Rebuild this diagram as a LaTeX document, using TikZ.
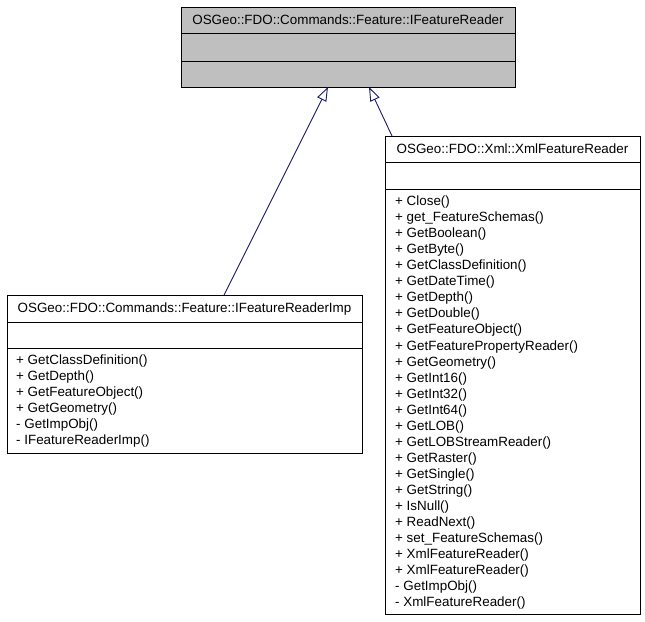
\documentclass[tikz,border=0pt]{standalone}
\usepackage{fontspec}
\setmainfont{Liberation Sans}
\usetikzlibrary{arrows.meta}
\definecolor{boxgray}{HTML}{BFBFBF}
\definecolor{edgeblue}{HTML}{191970}
\tikzset{
  umlbox/.style={draw=black, line width=1pt, rectangle, inner sep=0pt, anchor=north west},
  divline/.style={draw=black, line width=1pt},
  ttl/.style={inner sep=0pt, anchor=mid, font=\fontsize{13.4pt}{16pt}\selectfont},
  item/.style={inner sep=0pt, anchor=mid west, font=\fontsize{13.4pt}{16pt}\selectfont},
  inherit/.style={draw=edgeblue, line width=0.9pt, -{Triangle[open, length=14pt, width=10pt]}}
}
\begin{document}
\begin{tikzpicture}[x=1pt, y=-1pt]
\useasboundingbox (0,0) rectangle (645,621);
% top class
\node[umlbox, fill=boxgray, minimum width=334pt, minimum height=80pt] (top) at (181,7) {};
\draw[divline] (181,33) -- (515,33);
\draw[divline] (181,61) -- (515,61);
\node[ttl] (toptitle) at (348,21.5) {OSGeo::FDO::Commands::Feature::IFeatureReader};
% imp class
\node[umlbox, fill=white, minimum width=355pt, minimum height=158pt] (imp) at (7,295) {};
\draw[divline] (7,322) -- (362,322);
\draw[divline] (7,348) -- (362,348);
\node[ttl] (imptitle) at (184.5,310) {OSGeo::FDO::Commands::Feature::IFeatureReaderImp};
\foreach \t [count=\i from 0] in {+ GetClassDefinition(), + GetDepth(), + GetFeatureObject(), + GetGeometry(), - GetImpObj(), - IFeatureReaderImp()}
  \node[item] (impitem\i) at (16,362+16*\i) {\t};
% xml class
\node[umlbox, fill=white, minimum width=255pt, minimum height=478pt] (xml) at (385,136) {};
\draw[divline] (385,162) -- (640,162);
\draw[divline] (385,189) -- (640,189);
\node[ttl] (xmltitle) at (512.5,150.5) {OSGeo::FDO::Xml::XmlFeatureReader};
\foreach \t [count=\i from 0] in {+ Close(), + get\_FeatureSchemas(), + GetBoolean(), + GetByte(), + GetClassDefinition(), + GetDateTime(), + GetDepth(), + GetDouble(), + GetFeatureObject(), + GetFeaturePropertyReader(), + GetGeometry(), + GetInt16(), + GetInt32(), + GetInt64(), + GetLOB(), + GetLOBStreamReader(), + GetRaster(), + GetSingle(), + GetString(), + IsNull(), + ReadNext(), + set\_FeatureSchemas(), + XmlFeatureReader(), + XmlFeatureReader(), - GetImpObj(), - XmlFeatureReader()}
  \node[item] (xmlitem\i) at (395,203+16.04*\i) {\t};
% inheritance
\coordinate (impTop) at (224,295);
\coordinate (topL) at (328,87);
\coordinate (xmlTop) at (392,136);
\coordinate (topR) at (369,87);
\draw[inherit] (impTop) -- (topL);
\draw[inherit] (xmlTop) -- (topR);
\end{tikzpicture}
\end{document}
